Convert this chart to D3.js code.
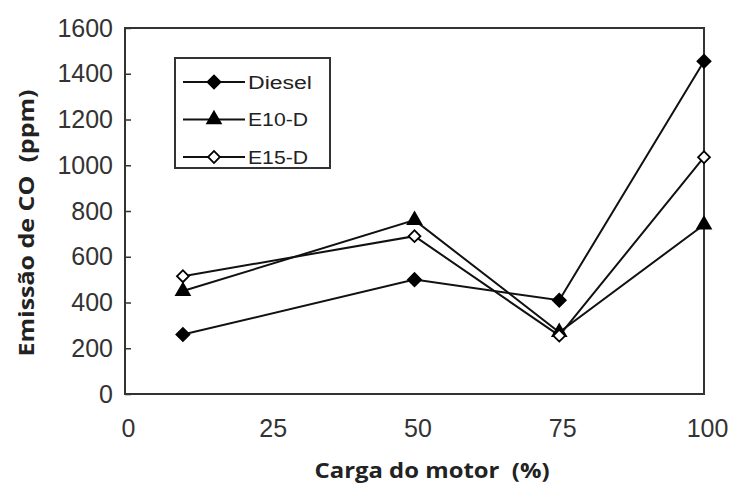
<!DOCTYPE html>
<html>
<head>
<meta charset="utf-8">
<script src="https://cdn.jsdelivr.net/npm/d3@7"></script>
<style>
  body { margin: 0; background: #fff; }
  svg { display: block; }
</style>
</head>
<body>
<div class="chart"></div>
<script>
var WIDTH = 738;
var HEIGHT = 487;

var loads = [10, 50, 75, 100];
var diesel = [260, 500, 410, 1455];
var e10d = [450, 760, 270, 740];
var e15d = [515, 690, 255, 1035];
var seriesNames = ['Diesel', 'E10-D', 'E15-D'];
var xTicks = [0, 25, 50, 75, 100];
var yTicks = [0, 200, 400, 600, 800, 1000, 1200, 1400, 1600];

var margin = { left: 125, top: 28, right: 34, bottom: 93 };

var x = d3.scaleLinear().domain([0, 100]).range([margin.left, WIDTH - margin.right]);
var y = d3.scaleLinear().domain([0, 1600]).range([HEIGHT - margin.bottom, margin.top]);

var svg = d3.select('.chart')
  .append('svg')
  .attr('width', WIDTH)
  .attr('height', HEIGHT);

// y axis, ticks point inward
var yAxis = svg.append('g')
  .attr('transform', 'translate(' + margin.left + ',0)')
  .call(d3.axisLeft(y).tickValues(yTicks).tickFormat(d3.format('d'))
    .tickSizeInner(-6).tickSizeOuter(0).tickPadding(12));
yAxis.select('.domain').remove();
yAxis.selectAll('line').attr('stroke', '#333').attr('stroke-width', 1.5);
yAxis.selectAll('text')
  .attr('font-family', 'Liberation Sans, Arial, sans-serif')
  .attr('font-size', 25)
  .attr('fill', '#333');

var xAxis = svg.append('g')
  .attr('transform', 'translate(0,' + (HEIGHT - margin.bottom) + ')')
  .call(d3.axisBottom(x).tickValues(xTicks).tickFormat(d3.format('d')).tickSize(0).tickPadding(25));
xAxis.select('.domain').remove();
xAxis.selectAll('text')
  .attr('dx', 3)
  .attr('font-family', 'Liberation Sans, Arial, sans-serif')
  .attr('font-size', 25)
  .attr('fill', '#333');

// frame
svg.append('rect')
  .attr('x', x(0))
  .attr('y', y(1600))
  .attr('width', x(100) - x(0))
  .attr('height', y(0) - y(1600))
  .attr('fill', 'none')
  .attr('stroke', '#333')
  .attr('stroke-width', 2);

var data = [
  { name: seriesNames[0], values: diesel, symbol: d3.symbolSquare, rot: 45, fill: '#000', size: 85 },
  { name: seriesNames[1], values: e10d, symbol: d3.symbolTriangle, rot: 0, fill: '#000', size: 80 },
  { name: seriesNames[2], values: e15d, symbol: d3.symbolSquare, rot: 45, fill: '#fff', size: 70 }
];

var line = d3.line()
  .x(function(d, i) { return x(loads[i]); })
  .y(function(d) { return y(d); });

data.forEach(function(s) {
  svg.append('path')
    .attr('d', line(s.values))
    .attr('fill', 'none')
    .attr('stroke', '#111')
    .attr('stroke-width', 2);
});

data.forEach(function(s) {
  svg.selectAll(null)
    .data(s.values)
    .enter()
    .append('path')
    .attr('transform', function(d, i) {
      return 'translate(' + x(loads[i]) + ',' + y(d) + ') rotate(' + s.rot + ')';
    })
    .attr('d', d3.symbol().type(s.symbol).size(s.size))
    .attr('fill', s.fill)
    .attr('stroke', '#000')
    .attr('stroke-width', 1.8);
});

// legend
var legend = svg.append('g');
legend.append('rect')
  .attr('x', 175)
  .attr('y', 58)
  .attr('width', 155)
  .attr('height', 110)
  .attr('fill', '#fff')
  .attr('stroke', '#333')
  .attr('stroke-width', 2);

data.forEach(function(s, i) {
  var ly = 82 + i * 37.5;
  legend.append('line')
    .attr('x1', 183).attr('x2', 245)
    .attr('y1', ly).attr('y2', ly)
    .attr('stroke', '#111')
    .attr('stroke-width', 2);
  legend.append('path')
    .attr('transform', 'translate(214,' + ly + ') rotate(' + s.rot + ')')
    .attr('d', d3.symbol().type(s.symbol).size(s.size))
    .attr('fill', s.fill)
    .attr('stroke', '#000')
    .attr('stroke-width', 1.8);
  legend.append('text')
    .attr('x', 248)
    .attr('y', ly + 6.5)
    .attr('font-family', 'Liberation Sans, Arial, sans-serif')
    .attr('font-size', 18)
    .attr('fill', '#222')
    .attr('textLength', [64, 60, 60][i])
    .attr('lengthAdjust', 'spacingAndGlyphs')
    .text(s.name);
});

// axis titles
svg.append('text')
  .attr('x', 432)
  .attr('y', 478)
  .attr('text-anchor', 'middle')
  .attr('font-family', 'Open Sans, DejaVu Sans, sans-serif')
  .attr('font-weight', 'bold')
  .attr('font-size', 22)
  .attr('fill', '#222')
  .attr('textLength', 235)
  .attr('lengthAdjust', 'spacingAndGlyphs')
  .text('Carga do motor\u00a0 (%)');

svg.append('text')
  .attr('transform', 'translate(34,223) rotate(-90)')
  .attr('text-anchor', 'middle')
  .attr('font-family', 'Open Sans, DejaVu Sans, sans-serif')
  .attr('font-weight', 'bold')
  .attr('font-size', 22)
  .attr('fill', '#222')
  .attr('textLength', 267)
  .attr('lengthAdjust', 'spacingAndGlyphs')
  .text('Emissão de CO\u00a0 (ppm)');
</script>
</body>
</html>
